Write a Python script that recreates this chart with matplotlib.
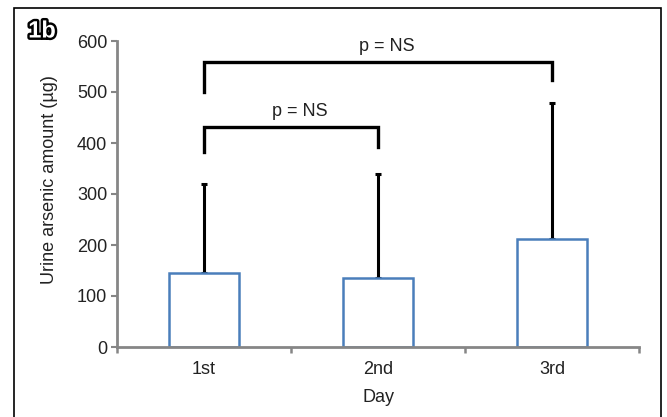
import matplotlib
matplotlib.use("Agg")
import matplotlib.pyplot as plt
from matplotlib.patches import Rectangle
import matplotlib.patheffects as pe

plt.rcParams['font.family'] = ['Liberation Sans', 'DejaVu Sans']

categories = ["1st", "2nd", "3rd"]
means = [146, 136, 211]
err_upper = [320, 339, 478]  # top of error bars
yticks = [0, 100, 200, 300, 400, 500, 600]

# brackets: (left idx, right idx, bar y, left leg bottom, right leg bottom, label)
brackets = [
    (0, 1, 431, 382, 392, "p = NS"),
    (0, 2, 559, 500, 524, "p = NS"),
]

FS = 13

fig = plt.figure(figsize=(6.67, 4.17), dpi=100)
ax = fig.add_axes([117/667, (417-347)/417, (639-117)/667, (347-41)/417])

x = list(range(len(categories)))
errs = [u - m for u, m in zip(err_upper, means)]
ax.errorbar(x, means, yerr=[[0]*3, errs], fmt='none', ecolor='black',
            elinewidth=2.2, capsize=2, capthick=2.2, zorder=1)
ax.bar(x, means, width=0.4, facecolor='white', edgecolor='#4a7ebb',
       linewidth=1.8, zorder=2)

for li, ri, yb, ll, rl, lab in brackets:
    ax.plot([li, li, ri, ri], [ll, yb, yb, rl], color='black', lw=2.4,
            solid_joinstyle='miter', clip_on=False)
    ax.annotate(lab, xy=((li+ri)/2, yb), xytext=(6, 5), textcoords='offset points',
                ha='center', va='bottom', fontsize=FS, color='#222222')

ax.set_xlim(-0.5, 2.5)
ax.set_ylim(0, 600)
ax.set_yticks(yticks)
ax.set_xticks([-0.5, 0.5, 1.5, 2.5])
ax.set_xticklabels([])
ax.set_xticks(x, minor=True)
ax.set_xticklabels(categories, minor=True, fontsize=FS)
ax.tick_params(axis='x', which='minor', length=0, pad=10, labelcolor='#222222')
ax.tick_params(axis='x', which='major', length=4, width=1.8, color='#868686', direction='out')
ax.tick_params(axis='y', length=4, width=1.5, color='#868686', labelsize=FS, pad=3,
               labelcolor='#222222')
for s in ['top', 'right']:
    ax.spines[s].set_visible(False)
for s in ['left', 'bottom']:
    ax.spines[s].set_color('#868686')
    ax.spines[s].set_linewidth(2)
ax.set_ylabel("Urine arsenic amount (µg)", fontsize=FS, color='#222222')
ax.yaxis.set_label_coords(-(117-58)/522, 0.5 + (347-41)/2/306 - (180-41)/306)
ax.set_xlabel("Day", fontsize=FS, labelpad=8, color='#222222')

fig.patches.append(Rectangle((14/667, -0.05), (661-14)/667, (417-8)/417 + 0.05,
                             transform=fig.transFigure, fill=False,
                             edgecolor='black', linewidth=1.2))
fig.text(42/667, (417-31)/417, "1b", ha='center', va='center', fontsize=17,
         fontweight='bold', color='white',
         path_effects=[pe.withStroke(linewidth=3.5, foreground='black')])

fig.savefig("out.png", dpi=100)
